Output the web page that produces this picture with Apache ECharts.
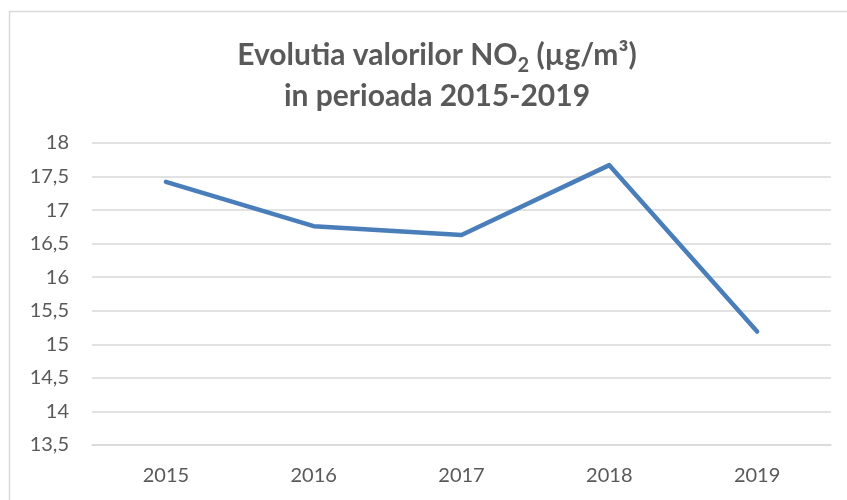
<!DOCTYPE html>
<html>
<head>
<meta charset="utf-8">
<script src="https://cdn.jsdelivr.net/npm/echarts@6/dist/echarts.min.js"></script>
<style>
html,body{margin:0;padding:0;background:#fff;}
#chart{width:847px;height:500px;}
</style>
</head>
<body>
<div id="chart"></div>
<script>
var categories = ['2015', '2016', '2017', '2018', '2019'];
var no2Values = [17.42, 16.76, 16.63, 17.67, 15.19];
var yMin = 13.5, yMax = 18, yStep = 0.5;

var chart = echarts.init(document.getElementById('chart'), null, {renderer: 'canvas'});
chart.setOption({
  backgroundColor: '#ffffff',
  animation: false,
  graphic: [{
    type: 'rect', z: -10, silent: true,
    shape: {x: 9.5, y: 11.5, width: 1000, height: 1000},
    style: {fill: 'none', stroke: '#d9d9d9', lineWidth: 1.5}
  }],
  title: {
    left: 432, top: 30, textAlign: 'center',
    text: '{a|Evolutia valorilor NO}{s|2}{a| (µg/m³)}\n{a|in perioada 2015-2019}',
    textStyle: {
      rich: {
        a: {fontFamily: 'Lato', fontWeight: 'bold', fontSize: 30, color: '#595959', lineHeight: 41},
        s: {fontFamily: 'Lato', fontWeight: 'bold', fontSize: 20, color: '#595959', lineHeight: 24, verticalAlign: 'bottom'}
      }
    }
  },
  grid: {left: 92, right: 16, top: 143, bottom: 55, containLabel: false},
  xAxis: {
    type: 'category', data: categories, boundaryGap: true,
    axisLine: {show: true, lineStyle: {color: '#d9d9d9', width: 1.5}},
    axisTick: {show: false},
    axisLabel: {color: '#595959', fontFamily: 'Lato', fontSize: 20, margin: 21}
  },
  yAxis: {
    type: 'value', min: yMin, max: yMax, interval: yStep,
    axisLine: {show: false}, axisTick: {show: false},
    splitLine: {lineStyle: {color: '#d9d9d9', width: 1.5}},
    axisLabel: {
      color: '#595959', fontFamily: 'Lato', fontSize: 20, margin: 23,
      formatter: function (v) { return String(v).replace('.', ','); }
    }
  },
  series: [{
    type: 'line', data: no2Values, showSymbol: false, symbol: 'none',
    lineStyle: {color: '#4a7ebb', width: 4.5, cap: 'round', join: 'round'},
    itemStyle: {color: '#4a7ebb'}
  }]
});
</script>
</body>
</html>
